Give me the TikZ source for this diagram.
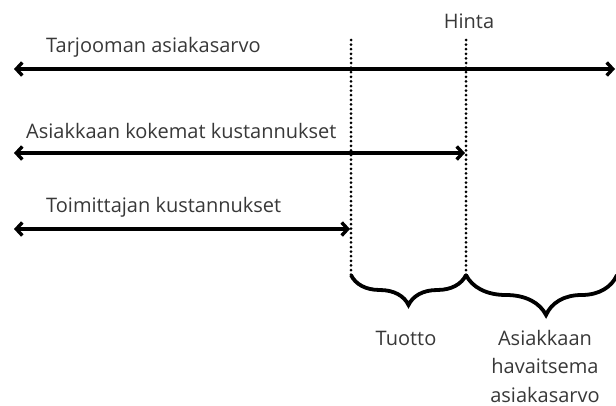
\documentclass[tikz,border=0pt]{standalone}
\usepackage{fontspec}
\setmainfont{Open Sans}
\usetikzlibrary{arrows.meta,decorations.pathreplacing}
\begin{document}
\begin{tikzpicture}[x=1pt,y={(0,-1pt)},
  lbl/.style={inner sep=0pt,font=\fontsize{20}{28.5}\selectfont,text=black!78},
  arr/.style={line width=3.4pt,{Straight Barb[length=6pt,width=13pt]}-{Straight Barb[length=6pt,width=13pt]}},
  dotline/.style={line width=3pt,line cap=round,dash pattern=on 0pt off 4.6pt},
  bracestyle/.style={line width=3.8pt,decorate}]
\useasboundingbox (0,0) rectangle (616,405);
\coordinate (a1l) at (14,69);
\coordinate (a1r) at (615,69);
\coordinate (a2l) at (14,153);
\coordinate (a2r) at (465,153);
\coordinate (a3l) at (14,229);
\coordinate (a3r) at (350,229);
\coordinate (d1t) at (351,40);
\coordinate (d1b) at (351,275);
\coordinate (d2t) at (466,40);
\coordinate (d2b) at (466,275);
\coordinate (bEnd) at (617,275);
\node[lbl,anchor=west] (t1) at (46,47) {Tarjooman asiakasarvo};
\node[lbl,anchor=west] (t2) at (26,131) {Asiakkaan kokemat kustannukset};
\node[lbl,anchor=west] (t3) at (46,207) {Toimittajan kustannukset};
\node[lbl] (hinta) at (469,21) {Hinta};
\node[lbl] (tuotto) at (406,338) {Tuotto};
\node[lbl,align=center] (hav) at (545,366) {Asiakkaan\\havaitsema\\asiakasarvo};
\draw[dotline] (d1t) -- (d1b);
\draw[dotline] (d2t) -- (d2b);
\draw[arr] (a1l) -- (a1r);
\draw[arr] (a2l) -- (a2r);
\draw[arr] (a3l) -- (a3r);
\draw[bracestyle,decoration={brace,mirror,amplitude=30pt,aspect=0.5}] (d1b) -- (d2b);
\draw[bracestyle,decoration={brace,mirror,amplitude=40pt,aspect=0.53}] (d2b) -- (bEnd);
\end{tikzpicture}
\end{document}
